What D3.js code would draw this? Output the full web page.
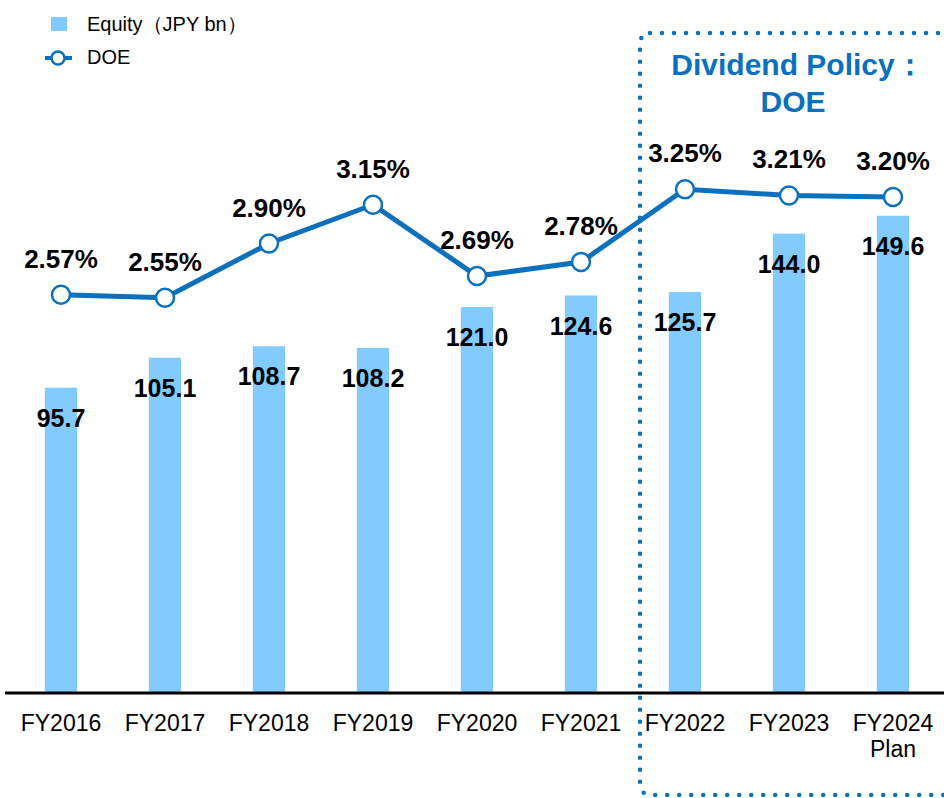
<!DOCTYPE html>
<html>
<head>
<meta charset="utf-8">
<script src="https://cdn.jsdelivr.net/npm/d3@7"></script>
<style>
body { margin: 0; background: #fff; }
text { font-family: "Liberation Sans", Arial, sans-serif; }
</style>
</head>
<body>
<script>
var width = 944;
var height = 798;
var categories = ["FY2016","FY2017","FY2018","FY2019","FY2020","FY2021","FY2022","FY2023","FY2024"];
var subLabels = ["","","","","","","","","Plan"];
var equity = [95.7, 105.1, 108.7, 108.2, 121.0, 124.6, 125.7, 144.0, 149.6];
var doe = [2.57, 2.55, 2.90, 3.15, 2.69, 2.78, 3.25, 3.21, 3.20];
var barColor = "#82CBFF";
var lineColor = "#0B70BE";

var svg = d3.select("body").append("svg")
            .attr("width", width)
            .attr("height", height);

var x = d3.scaleBand().domain(categories).range([9, 945]).paddingInner(0.69).paddingOuter(0.345);
var yBar = d3.scaleLinear().domain([0, 200]).range([693, 55]);
var yLine = d3.scaleLinear().domain([0, 4]).range([693, 73]);
function cx(d) { return x(d) + x.bandwidth() / 2; }

// bars
svg.selectAll(".bar")
    .data(equity)
    .enter()
    .append("rect")
    .attr("class", "bar")
    .attr("x", function(d, i) { return x(categories[i]); })
    .attr("y", function(d) { return yBar(d); })
    .attr("width", x.bandwidth())
    .attr("height", function(d) { return yBar(0) - yBar(d); })
    .style("fill", barColor);

svg.selectAll(".barLabel")
    .data(equity)
    .enter()
    .append("text")
    .attr("x", function(d, i) { return cx(categories[i]); })
    .attr("y", function(d) { return yBar(d) + 39; })
    .attr("text-anchor", "middle")
    .style("font-size", "25px")
    .style("font-weight", "bold")
    .style("fill", "#000")
    .text(function(d) { return d.toFixed(1); });

// axis
var xAxis = svg.append("g")
    .attr("transform", "translate(0,693)")
    .call(d3.axisBottom(x).tickSize(0).tickPadding(22));
xAxis.select(".domain").attr("d", "M5,0H944").style("stroke", "#000").style("stroke-width", 3);
xAxis.selectAll(".tick text")
    .style("font-family", "'Liberation Sans', Arial, sans-serif")
    .style("font-size", "23px")
    .style("fill", "#000");

svg.selectAll(".subLabel")
    .data(subLabels)
    .enter()
    .append("text")
    .attr("x", function(d, i) { return cx(categories[i]); })
    .attr("y", 757)
    .attr("text-anchor", "middle")
    .style("font-size", "23px")
    .style("fill", "#000")
    .text(function(d) { return d; });

// DOE line
var line = d3.line()
    .x(function(d, i) { return cx(categories[i]); })
    .y(function(d) { return yLine(d); });

svg.append("path")
    .datum(doe)
    .attr("d", line)
    .style("fill", "none")
    .style("stroke", lineColor)
    .style("stroke-width", 5);

svg.selectAll(".dot")
    .data(doe)
    .enter()
    .append("circle")
    .attr("cx", function(d, i) { return cx(categories[i]); })
    .attr("cy", function(d) { return yLine(d); })
    .attr("r", 9)
    .style("fill", "#fff")
    .style("stroke", lineColor)
    .style("stroke-width", 2.5);

svg.selectAll(".doeLabel")
    .data(doe)
    .enter()
    .append("text")
    .attr("x", function(d, i) { return cx(categories[i]); })
    .attr("y", function(d) { return yLine(d) - 27; })
    .attr("text-anchor", "middle")
    .style("font-size", "26px")
    .style("font-weight", "bold")
    .style("fill", "#000")
    .text(function(d) { return d.toFixed(2) + "%"; });

// dotted policy box
svg.append("rect")
    .attr("x", 640)
    .attr("y", 33)
    .attr("width", 320)
    .attr("height", 762)
    .attr("rx", 10)
    .style("fill", "none")
    .style("stroke", lineColor)
    .style("stroke-width", 4.5)
    .style("stroke-linecap", "round")
    .style("stroke-dasharray", "0 12");

svg.append("text")
    .attr("x", 798)
    .attr("y", 75)
    .attr("text-anchor", "middle")
    .style("font-size", "30px")
    .style("font-weight", "bold")
    .style("fill", lineColor)
    .text("Dividend Policy：");
svg.append("text")
    .attr("x", 793)
    .attr("y", 112)
    .attr("text-anchor", "middle")
    .style("font-size", "30px")
    .style("font-weight", "bold")
    .style("fill", lineColor)
    .text("DOE");

// legend
svg.append("rect")
    .attr("x", 51).attr("y", 17).attr("width", 16).attr("height", 14)
    .style("fill", barColor);
svg.append("text")
    .attr("x", 87).attr("y", 31)
    .style("font-size", "20px")
    .style("fill", "#000")
    .text("Equity（JPY bn）");
svg.append("line")
    .attr("x1", 45).attr("x2", 72).attr("y1", 58).attr("y2", 58)
    .style("stroke", lineColor).style("stroke-width", 4);
svg.append("circle")
    .attr("cx", 58).attr("cy", 58).attr("r", 6.5)
    .style("fill", "#fff").style("stroke", lineColor).style("stroke-width", 2.5);
svg.append("text")
    .attr("x", 87).attr("y", 64)
    .style("font-size", "20px")
    .style("fill", "#000")
    .text("DOE");
</script>
</body>
</html>
